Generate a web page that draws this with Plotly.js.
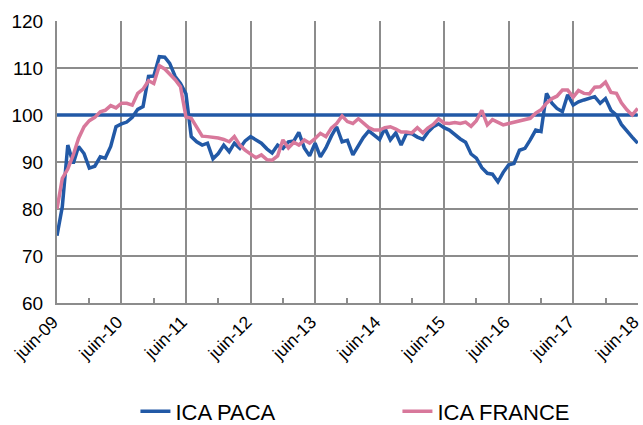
<!DOCTYPE html>
<html>
<head>
<meta charset="utf-8">
<script src="https://cdn.plot.ly/plotly-3.0.1.min.js"></script>
<style>
  html, body { margin: 0; padding: 0; background: #ffffff; }
  #chart { width: 643px; height: 425px; }
</style>
</head>
<body>
<div id="chart"></div>
<script>
// ---- Data (monthly, juin-09 .. juin-18) ----
const startMonth = '2009-06';
const tickLabels = ['juin-09','juin-10','juin-11','juin-12','juin-13','juin-14','juin-15','juin-16','juin-17','juin-18'];
const tickDates  = ['2009-06-01','2010-06-01','2011-06-01','2012-06-01','2013-06-01','2014-06-01','2015-06-01','2016-06-01','2017-06-01','2018-06-01'];

const icaPaca = [
  74.3, 80.5, 93.6, 89.7, 93.3, 91.8, 88.7, 89.1, 91.1, 90.8,
  93.3, 97.5, 98.1, 98.5, 99.5, 101.2, 101.8, 108.2, 108.3, 112.4,
  112.3, 111.0, 108.2, 106.7, 104.5, 95.4, 94.3, 93.6, 94.0, 90.7,
  91.8, 93.6, 92.2, 94.0, 92.9, 94.5, 95.4, 94.8, 94.0, 92.8,
  91.9, 93.6, 92.9, 94.3, 94.5, 96.3, 93.0, 91.3, 94.0, 91.1,
  93.0, 95.5, 97.5, 94.3, 94.6, 91.5, 93.6, 95.2, 96.6, 95.8,
  94.8, 97.2, 94.7, 96.2, 93.6, 96.1, 96.0, 95.3, 94.8, 96.3,
  97.5, 98.1, 97.3, 96.8, 95.8, 94.9, 94.2, 91.7, 90.8, 88.8,
  87.6, 87.4, 85.8, 87.8, 89.4, 89.7, 92.5, 92.9, 94.7, 96.8,
  96.5, 104.6, 102.5, 101.4, 100.7, 104.3, 102.1, 102.8, 103.2, 103.5,
  103.9, 102.5, 103.5, 101.0, 100.0, 98.0, 96.5, 95.3, 94.0
];

const icaFrance = [
  80.0, 86.5, 88.5, 91.5, 95.0, 97.5, 98.8, 99.5, 100.7, 101.0,
  102.0, 101.5, 102.5, 102.5, 102.1, 104.6, 105.5, 107.3, 106.7, 110.5,
  109.8, 108.8, 107.5, 106.0, 99.6, 99.3, 97.3, 95.5, 95.4, 95.3,
  95.1, 94.8, 94.3, 95.4, 93.6, 92.5, 91.6, 90.9, 91.5, 90.5,
  90.4, 91.3, 94.7, 93.0, 94.2, 93.6, 94.7, 94.0, 95.0, 96.1,
  95.4, 97.2, 98.2, 99.8, 98.6, 98.2, 99.2, 98.3, 97.3, 96.8,
  96.8, 97.3, 97.5, 97.0, 96.4, 96.4, 96.2, 97.3, 96.2, 97.2,
  98.0, 99.2, 98.3, 98.2, 98.4, 98.2, 98.5, 97.6, 98.8, 101.0,
  97.9, 99.0, 98.5, 97.9, 98.2, 98.5, 98.7, 99.0, 99.3, 100.4,
  101.1, 102.5, 103.5, 104.0, 105.3, 105.3, 103.8, 105.2, 104.6, 104.5,
  105.9, 106.0, 107.0, 104.8, 104.6, 102.6, 101.1, 100.0, 101.4
];

const baseLevel = 100;

// ---- Build month dates ----
function monthDate(i) {
  const y0 = parseInt(startMonth.slice(0, 4), 10);
  const m0 = parseInt(startMonth.slice(5, 7), 10) - 1;
  const t = m0 + i;
  const y = y0 + Math.floor(t / 12);
  const m = (t % 12) + 1;
  return y + '-' + String(m).padStart(2, '0') + '-01';
}
const months = icaPaca.map((_, i) => monthDate(i));
const baseLine = months.map(() => baseLevel);

const BLUE = '#2259A6';
const PINK = '#D8789B';
const GRID = '#8C8C8C';
const FONT = 'Liberation Sans, Arial, sans-serif';

const traces = [
  {
    x: months, y: baseLine, type: 'scatter', mode: 'lines',
    line: { color: BLUE, width: 3.5 }, showlegend: false, hoverinfo: 'skip', cliponaxis: false
  },
  {
    x: months, y: icaPaca, type: 'scatter', mode: 'lines', name: 'ICA PACA',
    line: { color: BLUE, width: 3.5 }
  },
  {
    x: months, y: icaFrance, type: 'scatter', mode: 'lines', name: 'ICA FRANCE',
    line: { color: PINK, width: 3.5 }
  }
];

const layout = {
  width: 643, height: 425,
  margin: { l: 57, r: 5, t: 21, b: 122, autoexpand: false },
  paper_bgcolor: '#ffffff', plot_bgcolor: '#ffffff',
  font: { family: FONT, color: '#000000' },
  xaxis: {
    type: 'date',
    range: ['2009-06-01', '2018-06-03'],
    tickmode: 'array', tickvals: tickDates, ticktext: tickLabels,
    tickangle: -45,
    tickfont: { size: 17.5, family: FONT, color: '#000000' },
    ticklabeloverflow: 'allow',
    ticklabelshift: -4,
    ticks: 'inside', ticklen: 5, tickwidth: 2, tickcolor: GRID,
    minor: { dtick: 'M6', tick0: tickDates[0], ticks: 'inside', ticklen: 5, tickwidth: 2, tickcolor: GRID, showgrid: false },
    showgrid: true, gridcolor: GRID, gridwidth: 2,
    showline: true, linecolor: GRID, linewidth: 2,
    zeroline: false, fixedrange: true, automargin: false
  },
  yaxis: {
    range: [60, 120], dtick: 10, tick0: 60,
    tickfont: { size: 19, family: FONT, color: '#000000' },
    ticks: '', ticklabelstandoff: 8,
    showgrid: true, gridcolor: GRID, gridwidth: 2,
    showline: true, linecolor: GRID, linewidth: 2,
    zeroline: false, fixedrange: true, automargin: false
  },
  showlegend: true,
  legend: {
    orientation: 'h',
    x: 0.135, xanchor: 'left',
    y: -0.31, yanchor: 'top',
    font: { size: 22, family: FONT, color: '#000000' },
    entrywidth: 217, entrywidthmode: 'pixels',
    bgcolor: 'rgba(0,0,0,0)'
  }
};

Plotly.newPlot('chart', traces, layout, { staticPlot: true, displayModeBar: false });
</script>
</body>
</html>
